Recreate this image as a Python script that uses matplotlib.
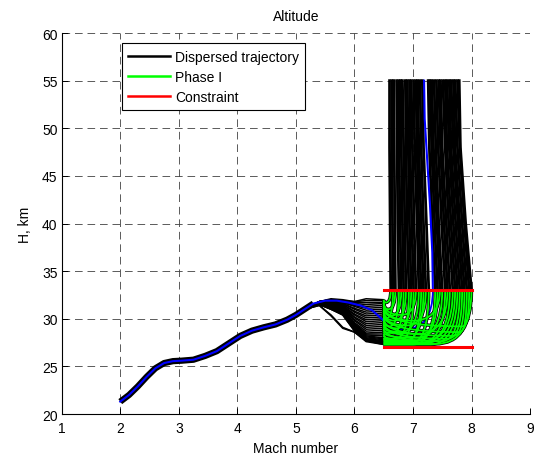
import matplotlib
matplotlib.use('Agg')
import matplotlib.pyplot as plt
from matplotlib.path import Path
from matplotlib.patches import PathPatch
from matplotlib.lines import Line2D

plt.rcParams['font.family'] = ['Liberation Sans', 'DejaVu Sans']
plt.rcParams['font.size'] = 10
plt.rcParams['lines.scale_dashes'] = False

# nominal trajectory (blue), shared bundle up to M 5.3
nom_mach = [2.0, 2.15, 2.3, 2.45, 2.6, 2.75, 2.9, 3.05, 3.25, 3.45, 3.65, 3.85, 4.05,
            4.25, 4.45, 4.65, 4.85, 5.0, 5.15, 5.3, 5.5, 5.7, 5.9, 6.1, 6.3, 6.5]
nom_h = [21.3, 22.0, 22.9, 23.9, 24.8, 25.35, 25.55, 25.6, 25.7, 26.1, 26.6, 27.4, 28.2,
         28.75, 29.1, 29.4, 29.9, 30.4, 31.0, 31.6, 31.9, 31.9, 31.7, 31.4, 30.9, 29.8]
bundle_end = 5.3
nom_low = (6.85, 28.9)          # lowest point of nominal phase I
nom_climb_h = [33, 37, 42, 47, 51, 55]
nom_climb_mach = [7.34, 7.33, 7.29, 7.24, 7.20, 7.19]

# phase I box and constraints
phase_start = 6.5
h_upper = 33
h_lower = 27
limit_mach = [6.5, 8.0]

# dispersed trajectories: altitude along the fan (M 5.15 -> 6.5)
fan_mach = [5.15, 5.4, 5.6, 5.8, 6.0, 6.2, 6.5]
fan_h = [
    [31.0, 31.8, 32.1, 32.0, 31.8, 32.1, 32.0],
    [31.0, 31.8, 32.0, 31.9, 31.8, 31.9, 31.9],
    [31.0, 31.8, 32.0, 31.9, 31.7, 31.7, 31.7],
    [31.0, 31.8, 32.0, 31.8, 31.6, 31.5, 31.6],
    [31.0, 31.8, 32.0, 31.8, 31.5, 31.3, 31.4],
    [31.0, 31.8, 31.9, 31.7, 31.4, 31.1, 31.2],
    [31.0, 31.8, 31.9, 31.7, 31.3, 30.9, 31.0],
    [31.0, 31.7, 31.9, 31.6, 31.1, 30.7, 30.8],
    [31.0, 31.7, 31.8, 31.6, 31.0, 30.5, 30.6],
    [31.0, 31.7, 31.8, 31.5, 30.8, 30.3, 30.4],
    [31.0, 31.7, 31.8, 31.5, 30.7, 30.1, 30.2],
    [31.0, 31.7, 31.7, 31.4, 30.5, 29.9, 30.0],
    [31.0, 31.7, 31.7, 31.3, 30.4, 29.7, 29.8],
    [31.0, 31.7, 31.6, 31.3, 30.2, 29.5, 29.6],
    [31.0, 31.7, 31.6, 31.2, 30.1, 29.3, 29.4],
    [31.0, 31.7, 31.5, 31.1, 29.9, 29.1, 29.2],
    [31.0, 31.7, 31.5, 31.1, 29.8, 28.9, 29.0],
    [31.0, 31.6, 31.4, 31.0, 29.6, 28.7, 28.8],
    [31.0, 31.6, 31.4, 30.9, 29.5, 28.5, 28.6],
    [31.0, 31.6, 31.3, 30.9, 29.4, 28.4, 28.4],
    [31.0, 31.6, 31.3, 30.8, 29.3, 28.3, 28.2],
    [31.0, 31.6, 31.2, 30.8, 29.2, 28.2, 28.0],
    [31.0, 31.6, 31.2, 30.7, 29.1, 28.1, 27.9],
    [31.0, 31.6, 31.2, 30.7, 29.0, 28.0, 27.8],
    [31.0, 31.6, 31.1, 30.6, 29.0, 27.9, 27.7],
    [31.0, 31.6, 31.1, 30.6, 28.9, 27.9, 27.6],
    [31.0, 31.5, 31.1, 30.5, 28.9, 27.8, 27.5],
    [31.0, 31.5, 31.0, 30.5, 28.8, 27.8, 27.5],
    [31.0, 31.5, 31.0, 30.4, 28.8, 27.7, 27.4],
    [31.0, 31.5, 31.0, 30.4, 28.7, 27.7, 27.4],
    [31.0, 31.4, 30.4, 29.1, 28.6, 27.6, 27.3],
    [31.0, 31.4, 30.3, 29.0, 28.6, 27.7, 27.3],
]

# phase I loops: lowest point of each trajectory
loop_low_mach = [6.54, 6.8, 6.58, 7.0, 6.63, 7.85, 6.68, 6.9, 6.56, 7.8, 6.72, 7.7,
                 6.6, 7.6, 6.8, 7.1, 7.5, 6.65, 7.05, 7.38, 6.7, 7.2, 6.85, 7.0,
                 6.75, 7.25, 6.85, 7.15, 6.95, 7.1, 7.0, 7.3]
loop_low_h = [31.7, 30.4, 31.0, 29.8, 30.3, 29.2, 29.8, 29.3, 30.1, 28.6, 29.0, 28.2,
              29.2, 27.9, 28.6, 28.4, 27.65, 28.5, 28.0, 27.35, 27.9, 27.7, 27.7, 27.6,
              27.6, 27.5, 27.5, 27.45, 27.4, 27.4, 27.3, 27.3]

# climb after phase I: Mach at these altitudes
climb_h = [33, 40, 48, 55]
climb_mach = [
    [6.62, 6.61, 6.60, 6.60],
    [7.05, 7.02, 6.99, 6.97],
    [6.70, 6.69, 6.68, 6.67],
    [7.46, 7.41, 7.35, 7.32],
    [6.80, 6.78, 6.76, 6.76],
    [7.96, 7.88, 7.80, 7.76],
    [6.88, 6.86, 6.84, 6.82],
    [7.22, 7.18, 7.14, 7.12],
    [6.66, 6.65, 6.64, 6.64],
    [7.92, 7.84, 7.76, 7.72],
    [6.97, 6.94, 6.92, 6.90],
    [7.88, 7.80, 7.72, 7.69],
    [6.76, 6.74, 6.73, 6.72],
    [7.84, 7.77, 7.69, 7.65],
    [7.10, 7.07, 7.03, 7.01],
    [7.59, 7.53, 7.47, 7.44],
    [7.80, 7.73, 7.65, 7.62],
    [6.84, 6.82, 6.80, 6.79],
    [7.50, 7.44, 7.39, 7.36],
    [8.00, 7.90, 7.81, 7.79],
    [6.93, 6.90, 6.88, 6.87],
    [7.68, 7.61, 7.55, 7.51],
    [7.18, 7.14, 7.10, 7.08],
    [7.42, 7.37, 7.32, 7.29],
    [7.01, 6.98, 6.95, 6.94],
    [7.72, 7.65, 7.58, 7.55],
    [7.14, 7.10, 7.07, 7.05],
    [7.63, 7.57, 7.50, 7.47],
    [7.27, 7.23, 7.18, 7.16],
    [7.55, 7.49, 7.43, 7.40],
    [7.38, 7.33, 7.28, 7.26],
    [7.76, 7.69, 7.62, 7.58],
]


def loop_path(h0, low_m, low_h, end_m):
    # rounded U from phase start down to the low point and up to the exit
    verts = [(phase_start, h0), (phase_start, low_h), (low_m, low_h),
             (end_m, low_h), (end_m, h_upper)]
    codes = [Path.MOVETO, Path.CURVE3, Path.CURVE3, Path.CURVE3, Path.CURVE3]
    return Path(verts, codes)


fig = plt.figure(figsize=(5.39, 4.56), dpi=100)
ax = fig.add_axes([0.1145, 0.0899, 0.8689, 0.8355])

# nominal phase I sits under everything else
ax.add_patch(PathPatch(loop_path(nom_h[-1], nom_low[0], nom_low[1], nom_climb_mach[0]),
                       fill=False, edgecolor='blue', lw=1.3, zorder=1.5))

# shared bundle
bm = [m for m in nom_mach if m <= bundle_end]
ax.plot(bm, nom_h[:len(bm)], color='black', lw=4.5, solid_capstyle='butt', zorder=2)

for i in range(len(fan_h)):
    ax.plot(fan_mach, fan_h[i], color='black', lw=1.1, zorder=2)
    p = loop_path(fan_h[i][-1], loop_low_mach[i], loop_low_h[i], climb_mach[i][0])
    ax.add_patch(PathPatch(p, fill=False, edgecolor='black', lw=2.4, zorder=2))
    ax.plot(climb_mach[i], climb_h, color='black', lw=2.0, zorder=2)

# nominal
ax.plot(nom_mach, nom_h, color='blue', lw=1.5, zorder=3)
ax.plot(nom_climb_mach, nom_climb_h, color='blue', lw=1.5, zorder=3)

# phase I in green
for i in range(len(fan_h)):
    p = loop_path(fan_h[i][-1], loop_low_mach[i], loop_low_h[i], climb_mach[i][0])
    ax.add_patch(PathPatch(p, fill=False, edgecolor='#00ff00', lw=1.3, zorder=4))

# constraints
ax.plot(limit_mach, [h_upper, h_upper], color='red', lw=2.2, zorder=5)
ax.plot(limit_mach, [h_lower, h_lower], color='red', lw=2.2, zorder=5)

ax.set_xlim(1, 9)
ax.set_ylim(20, 60)
ax.set_xticks(range(1, 10))
ax.set_yticks(range(20, 61, 5))
ax.grid(True, linestyle=(0, (5.5, 3.5)), color='#404040', linewidth=0.6)
ax.set_axisbelow(True)
for s in ['top', 'right']:
    ax.spines[s].set_visible(False)
ax.spines['left'].set_linewidth(0.8)
ax.spines['bottom'].set_linewidth(0.8)
ax.tick_params(direction='in', length=4, width=0.7, top=False, right=False)
ax.tick_params(axis='x', pad=5)
ax.tick_params(axis='y', pad=3)

ax.set_title('Altitude', fontsize=10, pad=9.5)
ax.set_xlabel('Mach number', labelpad=4.5)
ax.set_ylabel('H, km', labelpad=7)

handles = [Line2D([], [], color='black', lw=1.8),
           Line2D([], [], color='#00ff00', lw=1.8),
           Line2D([], [], color='red', lw=1.8)]
leg = ax.legend(handles, ['Dispersed trajectory', 'Phase I', 'Constraint'],
                loc='upper left', bbox_to_anchor=(0.128, 0.973), borderaxespad=0,
                fancybox=False, framealpha=1, edgecolor='black', handlelength=3.0,
                handletextpad=0.4, labelspacing=0.45, borderpad=0.45)
leg.get_frame().set_linewidth(0.8)
leg.set_zorder(10)

fig.savefig('out.png', dpi=100)
